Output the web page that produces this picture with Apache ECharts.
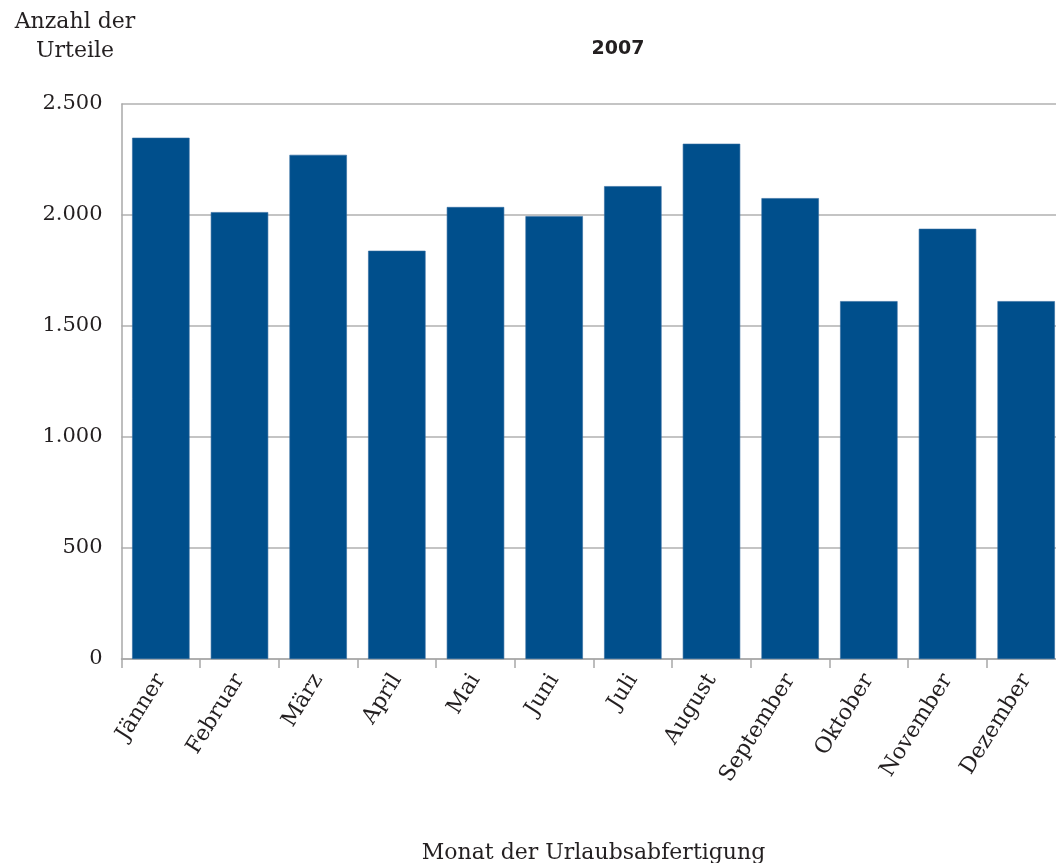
<!DOCTYPE html>
<html>
<head>
<meta charset="utf-8">
<script src="https://cdn.jsdelivr.net/npm/echarts@6/dist/echarts.min.js"></script>
<style>
  html, body { margin: 0; padding: 0; background: #fff; overflow: hidden; }
  #chart { width: 1056px; height: 863px; }
</style>
</head>
<body>
<div id="chart"></div>
<script>
// Urteile je Monat der Urlaubsabfertigung, 2007
const months = ['Jänner', 'Februar', 'März', 'April', 'Mai', 'Juni',
                'Juli', 'August', 'September', 'Oktober', 'November', 'Dezember'];
const judgements = [2348, 2013, 2271, 1839, 2036, 1995, 2130, 2321, 2076, 1612, 1938, 1612];
const yTicks = [0, 500, 1000, 1500, 2000, 2500];

const serif = '"DejaVu Serif", "Liberation Serif", serif';
const ink = '#231f20';
const fmt = v => v >= 1000 ? String(v).replace(/(\d)(\d{3})$/, '$1.$2') : String(v);

const chart = echarts.init(document.getElementById('chart'));
chart.setOption({
  animation: false,
  title: [
    {
      text: '2007',
      left: 613, top: 35, textAlign: 'center',
      textStyle: { fontFamily: '"DejaVu Sans", sans-serif', fontWeight: 'bold', fontSize: 19, color: ink }
    },
    {
      text: 'Anzahl der\nUrteile',
      left: 70, top: 3, textAlign: 'center',
      textStyle: { fontFamily: serif, fontWeight: 'normal', fontSize: 22, lineHeight: 29, color: ink }
    }
  ],
  grid: { left: 121.5, right: -9.5, top: 104, bottom: 204, containLabel: false, outerBoundsMode: 'none' },
  xAxis: {
    type: 'category',
    data: months,
    name: 'Monat der Urlaubsabfertigung',
    nameLocation: 'middle',
    nameGap: 183,
    nameTextStyle: { fontFamily: serif, fontSize: 22, color: ink },
    axisLine: { lineStyle: { color: '#a8a8a8', width: 1.5 } },
    axisTick: { show: true, length: 9, lineStyle: { color: '#a8a8a8', width: 1.5 } },
    axisLabel: { rotate: 58, margin: 17, fontFamily: serif, fontSize: 22, color: ink }
  },
  yAxis: {
    type: 'value',
    min: yTicks[0],
    max: yTicks[yTicks.length - 1],
    interval: 500,
    axisLine: { show: true, lineStyle: { color: '#a8a8a8', width: 1.5 } },
    axisTick: { show: false },
    splitLine: { lineStyle: { color: '#b0b0b0', width: 1.5 } },
    axisLabel: { margin: 19, fontFamily: serif, fontSize: 21, color: ink, formatter: fmt }
  },
  series: [{
    type: 'bar',
    data: judgements,
    barCategoryGap: '27%',
    itemStyle: { color: '#004f8c', borderColor: '#2f6aa0', borderWidth: 0.6 }
  }]
});
</script>
</body>
</html>
